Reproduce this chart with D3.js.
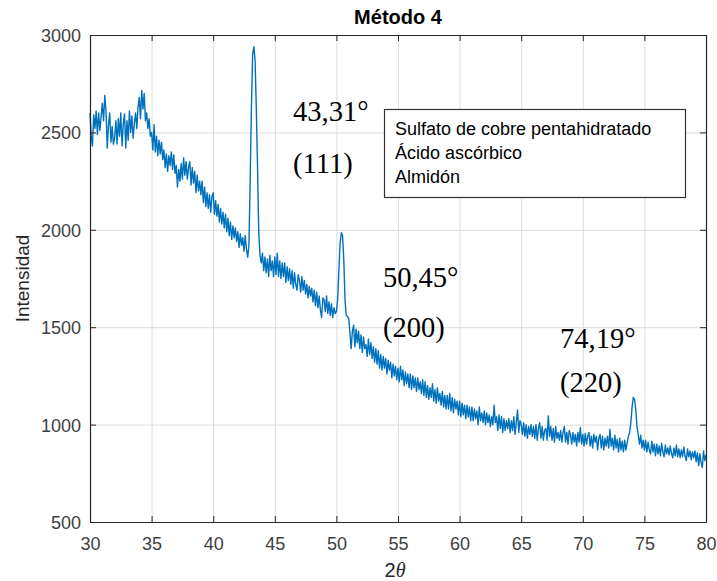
<!DOCTYPE html>
<html>
<head>
<meta charset="utf-8">
<script src="https://cdn.jsdelivr.net/npm/d3@7"></script>
<style>
  html, body { margin: 0; padding: 0; background: #fff; }
  svg { display: block; }
</style>
</head>
<body>
<svg id="chart" width="717" height="581"></svg>
<script>
// Diffraction scan, 2θ from 30° to 80° in 0.1° steps
const angleStart = 30;
const angleStep = 0.1;
const intensity = [
  2600, 2480, 2430, 2590, 2520, 2610, 2490, 2600, 2510, 2580,
  2650, 2560, 2690, 2610, 2420, 2540, 2600, 2450, 2530, 2440,
  2470, 2560, 2440, 2570, 2480, 2600, 2430, 2540, 2595, 2420,
  2560, 2460, 2610, 2500, 2585, 2470, 2545, 2600, 2520, 2630,
  2680, 2570, 2715, 2620, 2700, 2560, 2600, 2520, 2570, 2480,
  2500, 2410, 2540, 2400, 2480, 2380, 2460, 2390, 2450, 2360,
  2410, 2320, 2390, 2300, 2380, 2330, 2400, 2310, 2385, 2290,
  2330, 2220, 2310, 2250, 2340, 2260, 2370, 2280, 2350, 2260,
  2320, 2350, 2230, 2320, 2240, 2300, 2190, 2280, 2200, 2250,
  2180, 2250, 2140, 2220, 2120, 2190, 2110, 2180, 2090, 2170,
  2190, 2080, 2150, 2070, 2130, 2040, 2110, 2030, 2090, 2010,
  2080, 1990, 2060, 1970, 2040, 1950, 2020, 1960, 2010, 1940,
  1990, 1910, 1980, 1920, 1960, 1890, 1970, 1900, 1860, 1920,
  2250, 2620, 2900, 2940, 2870, 2620, 2320, 1980, 1870, 1830,
  1880, 1790, 1860, 1780, 1850, 1760, 1870, 1790, 1840, 1760,
  1860, 1770, 1880, 1760, 1840, 1750, 1830, 1760, 1830, 1730,
  1810, 1740, 1800, 1720, 1790, 1700, 1780, 1720, 1690, 1770,
  1740, 1680, 1760, 1690, 1740, 1670, 1720, 1650, 1710, 1660,
  1700, 1630, 1690, 1610, 1680, 1600, 1660, 1590, 1550, 1650,
  1640, 1580, 1660, 1570, 1630, 1560, 1620, 1550, 1600, 1570,
  1580, 1640, 1790, 1930, 1985, 1970, 1845, 1640, 1560, 1555,
  1545, 1470, 1390, 1480, 1510, 1400, 1490, 1420, 1480, 1390,
  1460, 1370, 1450, 1390, 1410, 1350, 1440, 1360, 1420, 1340,
  1400, 1320, 1390, 1310, 1380, 1290, 1360, 1280, 1350, 1290,
  1340, 1260, 1330, 1280, 1320, 1240, 1310, 1250, 1300, 1230,
  1290, 1220, 1300, 1230, 1280, 1200, 1270, 1210, 1260, 1190,
  1260, 1180, 1250, 1190, 1240, 1170, 1240, 1180, 1220, 1160,
  1230, 1150, 1220, 1140, 1200, 1130, 1190, 1140, 1210, 1120,
  1180, 1110, 1190, 1120, 1160, 1100, 1170, 1090, 1150, 1080,
  1150, 1080, 1160, 1070, 1140, 1060, 1130, 1080, 1120, 1050,
  1120, 1040, 1110, 1050, 1100, 1030, 1100, 1040, 1090, 1020,
  1090, 1020, 1080, 1030, 1070, 1000, 1090, 1020, 1060, 1010,
  1070, 1000, 1060, 1010, 1050,  990, 1040, 1000, 1100, 1010,
  1040,  970, 1050,  980, 1040,  960, 1030,  970, 1020,  980,
  1030,  960, 1020,  970, 1040,  950, 1010, 1075,  960, 1020,
  1000,  950, 1010,  940, 1000,  930,  990,  950, 1000,  940,
   990,  930, 1000,  920,  980, 1010,  930,  990,  920,  970,
   980,  920, 1045,  940,  990,  920,  980,  910,  990,  930,
   960,  920,  970,  910,  960,  990,  910,  960,  900,  970,
   950,  900,  960,  910,  950,  890,  960,  910,  985,  900,
   950,  890,  955,  900,  940,  960,  890,  940,  880,  950,
   910,  940,  870,  930,  950,  880,  940,  870,  930,  890,
   940,  880,  975,  890,  930,  870,  945,  880,  925,  860,
   930,  870,  915,  860,  920,  870,  905,  940,  960, 1010,
  1090, 1140, 1130, 1075,  990,  950,  900,  945,  880,  920,
   870,  920,  860,  910,  870,  850,  915,  860,  900,  840,
   900,  850,  890,  840,  905,  860,  835,  895,  850,  880,
   845,  890,  850,  830,  880,  840,  895,  835,  875,  830,
   870,  835,  885,  840,  815,  875,  835,  865,  820,  860,
   830,  865,  810,  855,  790,  850,  805,  780,  865,  815,
   845
];

const xTicks = [30, 35, 40, 45, 50, 55, 60, 65, 70, 75, 80];
const yTicks = [500, 1000, 1500, 2000, 2500, 3000];

const peakAngles = ["43,31°", "50,45°", "74,19°"];
const peakPlanes = ["(111)", "(200)", "(220)"];
// baseline anchors of the peak labels, in data units (2θ, intensity)
const angleLabelAt = [[46.48, 2560], [53.78, 1706], [68.15, 1395]];
const planeLabelAt = [[46.48, 2293], [53.78, 1450], [68.15, 1165]];

const legendItems = ["Sulfato de cobre pentahidratado", "Ácido ascórbico", "Almidón"];

const W = 717, H = 581;
const margin = { left: 90, right: 11, top: 35, bottom: 59 };
const iw = W - margin.left - margin.right;
const ih = H - margin.top - margin.bottom;

const svg = d3.select("#chart");
const g = svg.append("g").attr("transform", `translate(${margin.left},${margin.top})`);

const x = d3.scaleLinear().domain([30, 80]).range([0, iw]);
const y = d3.scaleLinear().domain([500, 3000]).range([ih, 0]);

const axisColor = "#262626";
const sans = "'Liberation Sans', Arial, Helvetica, sans-serif";
const serif = "'Liberation Serif', 'Times New Roman', serif";
const fmt = d3.format("d");

// grid
g.append("g")
  .attr("transform", `translate(0,${ih})`)
  .call(d3.axisBottom(x).tickValues(xTicks).tickSize(-ih).tickFormat(""))
  .call(s => s.select(".domain").remove())
  .call(s => s.selectAll("line").attr("stroke", "#dcdcdc").attr("stroke-width", 1));
g.append("g")
  .call(d3.axisLeft(y).tickValues(yTicks).tickSize(-iw).tickFormat(""))
  .call(s => s.select(".domain").remove())
  .call(s => s.selectAll("line").attr("stroke", "#dcdcdc").attr("stroke-width", 1));

// data line
const points = intensity.map((v, i) => [angleStart + i * angleStep, v]);
const line = d3.line().x(d => x(d[0])).y(d => y(d[1]));
g.append("path")
  .datum(points)
  .attr("fill", "none")
  .attr("stroke", "#0072BD")
  .attr("stroke-width", 1.4)
  .attr("stroke-linejoin", "round")
  .attr("d", line);

// axes with inward ticks on all four sides
function styleAxis(s) {
  s.select(".domain").attr("stroke", axisColor).attr("stroke-width", 1.2);
  s.selectAll(".tick line").attr("stroke", axisColor).attr("stroke-width", 1);
  s.selectAll("text").attr("fill", "#404040").style("font-family", sans).style("font-size", "18px");
}
g.append("g")
  .attr("transform", `translate(0,${ih})`)
  .call(d3.axisBottom(x).tickValues(xTicks).tickFormat(fmt).tickSizeInner(-6).tickSizeOuter(0).tickPadding(15))
  .call(styleAxis);
g.append("g")
  .call(d3.axisTop(x).tickValues(xTicks).tickSizeInner(-6).tickSizeOuter(0).tickFormat(""))
  .call(styleAxis);
g.append("g")
  .call(d3.axisLeft(y).tickValues(yTicks).tickFormat(fmt).tickSizeInner(-6).tickSizeOuter(0).tickPadding(9))
  .call(styleAxis)
  .call(s => s.selectAll("text").attr("dy", "0.36em"));
g.append("g")
  .attr("transform", `translate(${iw},0)`)
  .call(d3.axisRight(y).tickValues(yTicks).tickSizeInner(-6).tickSizeOuter(0).tickFormat(""))
  .call(styleAxis);

// title and axis labels
svg.append("text")
  .attr("x", margin.left + iw / 2).attr("y", 24)
  .attr("text-anchor", "middle")
  .style("font-family", sans).style("font-size", "20px").style("font-weight", "bold")
  .attr("fill", "#000")
  .text("Método 4");

svg.append("text")
  .attr("transform", `translate(29,${margin.top + ih / 2}) rotate(-90)`)
  .attr("text-anchor", "middle")
  .style("font-family", sans).style("font-size", "19px")
  .attr("fill", "#262626")
  .text("Intensidad");

const xl = svg.append("text")
  .attr("x", margin.left + iw / 2 - 3).attr("y", 577)
  .attr("text-anchor", "middle")
  .style("font-family", sans).style("font-size", "20px")
  .attr("fill", "#262626");
xl.append("tspan").text("2");
xl.append("tspan").style("font-family", serif).style("font-style", "italic").text("θ");

// peak annotations
peakAngles.forEach((lab, i) => {
  g.append("text")
    .attr("x", x(angleLabelAt[i][0])).attr("y", y(angleLabelAt[i][1]))
    .style("font-family", serif).style("font-size", "28.5px").attr("fill", "#000")
    .text(lab);
  g.append("text")
    .attr("x", x(planeLabelAt[i][0])).attr("y", y(planeLabelAt[i][1]))
    .style("font-family", serif).style("font-size", "28.5px").attr("fill", "#000")
    .text(peakPlanes[i]);
});

// legend
const lg = svg.append("g").attr("transform", "translate(384,109)");
lg.append("rect")
  .attr("x", 0.5).attr("y", 0.5).attr("width", 301).attr("height", 88)
  .attr("fill", "#fff").attr("stroke", "#333").attr("stroke-width", 1.2);
legendItems.forEach((t, i) => {
  lg.append("text")
    .attr("x", 11).attr("y", 26 + i * 24)
    .style("font-family", sans).style("font-size", "18px").attr("fill", "#000")
    .text(t);
});
</script>
</body>
</html>
